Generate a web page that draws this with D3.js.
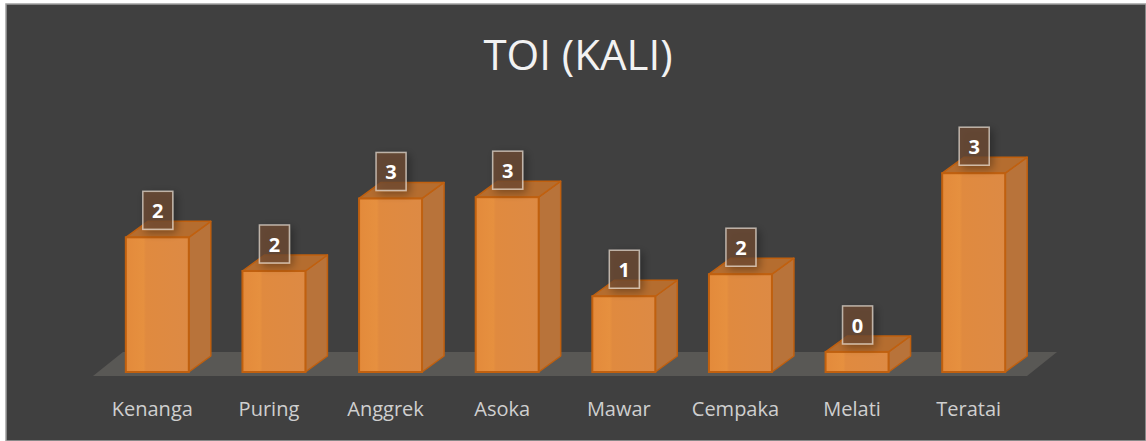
<!DOCTYPE html>
<html>
<head>
<meta charset="utf-8">
<script src="https://cdn.jsdelivr.net/npm/d3@7"></script>
<style>
  html, body { margin: 0; padding: 0; background: #ffffff; }
  svg { display: block; }
</style>
</head>
<body>
<div id="chart"></div>
<script>
const categories = ["Kenanga", "Puring", "Anggrek", "Asoka", "Mawar", "Cempaka", "Melati", "Teratai"];
const values = [2.08, 1.56, 2.68, 2.70, 1.17, 1.51, 0.31, 3.07];
const title = "TOI (KALI)";

const W = 1146, H = 441;
const svg = d3.select("#chart").append("svg").attr("width", W).attr("height", H);

const defs = svg.append("defs");
const fg = defs.append("linearGradient").attr("id", "front").attr("x1", "0").attr("x2", "1").attr("y1", "0").attr("y2", "0");
fg.append("stop").attr("offset", "0%").attr("stop-color", "#e38a3b");
fg.append("stop").attr("offset", "28%").attr("stop-color", "#e6903f");
fg.append("stop").attr("offset", "32%").attr("stop-color", "#e08a3f");
fg.append("stop").attr("offset", "100%").attr("stop-color", "#dd8a44");
const shadow = defs.append("filter").attr("id", "sh").attr("x", "-50%").attr("y", "-50%").attr("width", "200%").attr("height", "200%");
shadow.append("feGaussianBlur").attr("in", "SourceAlpha").attr("stdDeviation", 4);
shadow.append("feOffset").attr("dx", 3).attr("dy", 3).attr("result", "b");
shadow.append("feComponentTransfer").append("feFuncA").attr("type", "linear").attr("slope", 0.45);
const m = shadow.append("feMerge");
m.append("feMergeNode");
m.append("feMergeNode").attr("in", "SourceGraphic");

// chart area
svg.append("rect").attr("x", 6).attr("y", 4).attr("width", W - 6).attr("height", H - 4)
  .attr("fill", "#404040").attr("stroke", "#a0a0a0").attr("stroke-width", 1.5);

const x = d3.scaleBand().domain(categories).range([99, 1032]).paddingInner(0.46).paddingOuter(0.23);
const y = d3.scaleLinear().domain([0, 4]).range([372, 113]);
const dx = 22, dy = -16;

// title
svg.append("text").attr("x", 578).attr("y", 70).attr("text-anchor", "middle")
  .attr("font-family", "'Open Sans', sans-serif").attr("font-size", 42)
  .attr("fill", "#f2f2f2").text(title);

// floor
const x0 = x.range()[0] - 6, x1 = x.range()[1] - 5;
const fy = y(0) + 4;
svg.append("path")
  .attr("d", `M${x0},${fy} L${x1},${fy} L${x1 + 30},${fy - 24} L${x0 + 30},${fy - 24} Z`)
  .attr("fill", "#595855");

const stroke = "#c0600f";
const bars = svg.append("g").selectAll("g").data(categories).join("g");
bars.each(function(c, i) {
  const g = d3.select(this);
  const L = x(c), R = x(c) + x.bandwidth(), T = y(values[i]), B = y(0);
  g.append("path").attr("d", `M${R},${B} L${R + dx},${B + dy} L${R + dx},${T + dy} L${R},${T} Z`)
    .attr("fill", "#b8733a").attr("stroke", stroke).attr("stroke-width", 1.5).attr("stroke-linejoin", "round");
  g.append("path").attr("d", `M${L},${T} L${R},${T} L${R + dx},${T + dy} L${L + dx},${T + dy} Z`)
    .attr("fill", "#b56d2f").attr("stroke", stroke).attr("stroke-width", 1.5).attr("stroke-linejoin", "round");
  g.append("rect").attr("x", L).attr("y", T).attr("width", R - L).attr("height", B - T)
    .attr("fill", "url(#front)").attr("stroke", stroke).attr("stroke-width", 2);
});

// data labels
const fmt = d3.format(".0f");
const labels = svg.append("g").selectAll("g").data(categories).join("g");
labels.each(function(c, i) {
  const g = d3.select(this);
  const cx = x(c) + x.bandwidth() / 2 + 0.5;
  const T = y(values[i]);
  g.append("rect").attr("x", cx - 15).attr("y", T - 46).attr("width", 30).attr("height", 38)
    .attr("fill", "rgba(112,76,48,0.72)").attr("stroke", "rgba(235,225,215,0.7)").attr("stroke-width", 1.5)
    .attr("filter", "url(#sh)");
  g.append("text").attr("x", cx).attr("y", T - 19).attr("text-anchor", "middle")
    .attr("font-family", "'Open Sans', sans-serif").attr("font-weight", "bold").attr("font-size", 20)
    .attr("fill", "#ffffff").text(fmt(values[i]));
});

// category axis
const axis = d3.axisBottom(x).tickSize(0).tickPadding(0);
const ax = svg.append("g").attr("transform", `translate(-5, 416)`).call(axis);
ax.select(".domain").remove();
ax.selectAll("text").attr("dy", 0).attr("font-family", "'Open Sans', sans-serif")
  .attr("font-size", 20).attr("fill", "#cfcfcf");
</script>
</body>
</html>
